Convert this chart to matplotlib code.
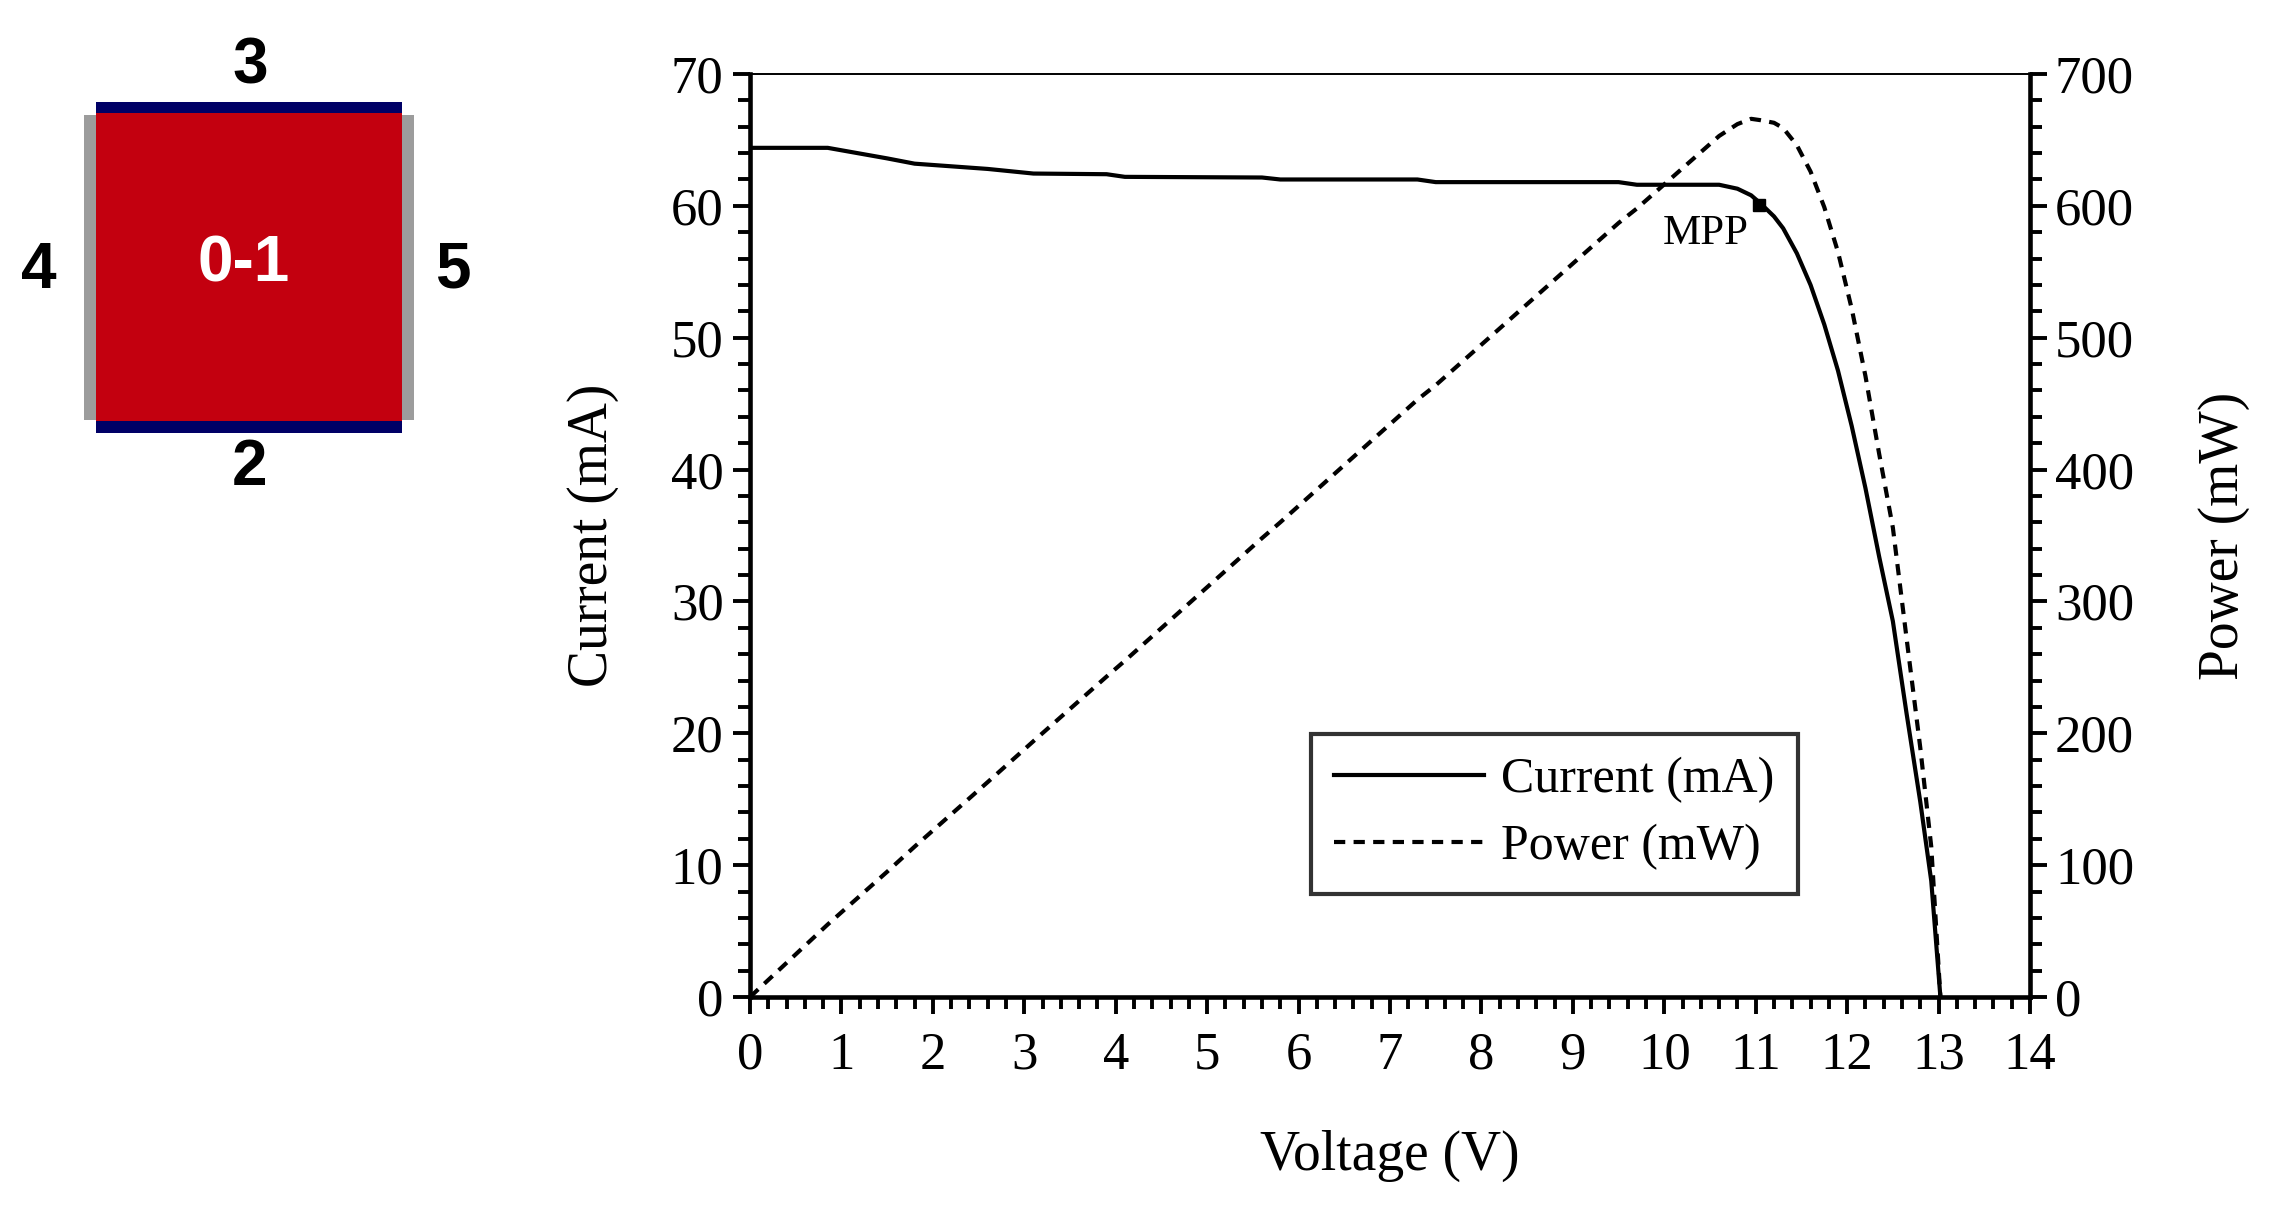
import matplotlib.pyplot as plt
from matplotlib.patches import Rectangle
from matplotlib.ticker import MultipleLocator

plt.rcParams['font.family'] = ['Liberation Serif', 'DejaVu Serif']

# I-V curve
voltage_v = [0.0, 0.85, 1.5, 1.8, 2.6, 3.1, 3.9, 4.1, 5.6, 5.8, 7.3, 7.5, 9.5, 9.7,
             10.6, 10.8, 10.95, 11.05, 11.2, 11.3, 11.45, 11.6, 11.75, 11.9, 12.05,
             12.2, 12.35, 12.5, 12.65, 12.8, 12.92, 13.02]
current_ma = [64.4, 64.4, 63.6, 63.2, 62.8, 62.45, 62.4, 62.2, 62.15, 62.0, 62.0, 61.8,
              61.8, 61.6, 61.6, 61.3, 60.8, 60.2, 59.2, 58.3, 56.4, 54.0, 51.0, 47.5,
              43.3, 38.6, 33.4, 28.5, 21.5, 14.8, 8.8, 0.0]
power_mw = [0, 55, 95, 114, 163, 194, 243, 255, 348, 360, 453, 464, 587, 598,
            653, 662, 666, 665, 663, 659, 646, 626, 599, 565, 522,
            471, 412, 356, 272, 189, 114, 0]

mpp_v = 11.04
mpp_ma = 60.1

# cell sketch on the left
cell_label = "0-1"
side_labels = ["3", "2", "4", "5"]

W, H = 2279, 1207
fig = plt.figure(figsize=(W / 100, H / 100), dpi=100)

# ---- cell diagram (pixel coords) ----
dax = fig.add_axes([0, 0, 1, 1], zorder=-1)
dax.set_xlim(0, W)
dax.set_ylim(H, 0)
dax.axis('off')

red = '#c3000f'
navy = '#000066'
grey = '#9c9c9c'
dax.add_patch(Rectangle((84, 115), 12, 305, color=grey, lw=0))
dax.add_patch(Rectangle((402, 115), 12, 305, color=grey, lw=0))
dax.add_patch(Rectangle((96, 113), 306, 308, color=red, lw=0))
dax.add_patch(Rectangle((96, 102), 306, 11, color=navy, lw=0))
dax.add_patch(Rectangle((96, 421), 306, 12, color=navy, lw=0))

sans = ['Liberation Sans', 'DejaVu Sans']
dax.text(244, 264, cell_label, color='white', fontsize=46, fontweight='bold',
         family=sans, ha='center', va='center')
for lab, (px, py) in zip(side_labels, [(250, 67), (250, 468), (39, 271), (453, 271)]):
    dax.text(px, py, lab, color='black', fontsize=46, fontweight='bold',
             family=sans, ha='center', va='center')

# ---- I-V / P-V chart ----
ax = fig.add_axes([750 / W, 1 - 997 / H, 1280 / W, 923 / H])
ax2 = ax.twinx()

l1, = ax.plot(voltage_v, current_ma, color='black', lw=3.0, label='Current (mA)')
ax.plot([mpp_v], [mpp_ma], marker='s', color='black', ms=9, ls='none')
ax.text(10.45, 57.9, 'MPP', fontsize=31, ha='center', va='center')

l2, = ax2.plot(voltage_v, power_mw, color='black', lw=3.0, ls=(0, (2.7, 2.0)),
               label='Power (mW)')

ax.set_xlim(0, 14)
ax.set_ylim(0, 70)
ax2.set_ylim(0, 700)

ax.xaxis.set_major_locator(MultipleLocator(1))
ax.xaxis.set_minor_locator(MultipleLocator(0.2))
ax.yaxis.set_major_locator(MultipleLocator(10))
ax.yaxis.set_minor_locator(MultipleLocator(2))
ax2.yaxis.set_major_locator(MultipleLocator(100))
ax2.yaxis.set_minor_locator(MultipleLocator(20))

ax.tick_params(axis='both', which='major', direction='out', length=12, width=2.8,
               labelsize=38)
ax.tick_params(axis='both', which='minor', direction='out', length=8.5, width=2.8)
ax.tick_params(axis='x', which='both', top=False, pad=13)
ax.tick_params(axis='y', which='both', right=False, pad=7)
ax2.tick_params(axis='y', which='major', direction='out', length=12, width=2.8,
                labelsize=38, pad=6)
ax2.tick_params(axis='y', which='minor', direction='out', length=8.5, width=2.8)

for name in ['left', 'bottom']:
    ax.spines[name].set_linewidth(3.3)
ax.spines['right'].set_visible(False)
ax.spines['top'].set_linewidth(1.4)
for name in ['left', 'bottom', 'top']:
    ax2.spines[name].set_visible(False)
ax2.spines['right'].set_linewidth(3.3)

ax.set_xlabel('Voltage (V)', fontsize=40, labelpad=36)
ax.set_ylabel('Current (mA)', fontsize=40, labelpad=37)
ax2.set_ylabel('Power (mW)', fontsize=40, labelpad=46)

leg = ax2.legend(handles=[l1, l2], loc='lower left', bbox_to_anchor=(0.438, 0.112),
                 borderaxespad=0, fontsize=36, frameon=True, fancybox=False,
                 edgecolor='black', handlelength=3.0, handletextpad=0.33,
                 borderpad=0.47, labelspacing=0.4)
leg.get_frame().set_linewidth(3.0)

fig.savefig('out.png', dpi=100)
